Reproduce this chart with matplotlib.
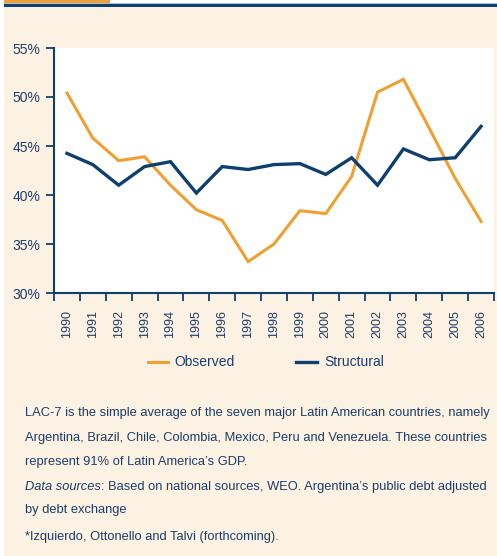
import matplotlib
matplotlib.use('Agg')
import matplotlib.pyplot as plt
from matplotlib.patches import Rectangle
from matplotlib.lines import Line2D

years = [str(y) for y in range(1990, 2007)]
observed = [50.4, 45.8, 43.5, 43.9, 41.0, 38.5, 37.4, 33.2, 35.0, 38.4,
            38.1, 41.9, 50.5, 51.8, 46.8, 41.7, 37.3]
structural = [44.25, 43.1, 41.0, 42.9, 43.4, 40.2, 42.9, 42.6, 43.1, 43.2,
              42.1, 43.8, 41.0, 44.7, 43.6, 43.8, 47.0]
yticks = [30, 35, 40, 45, 50, 55]

plt.rcParams['font.family'] = ['Liberation Sans', 'DejaVu Sans']

cream = '#fcf2e4'
navy = '#0f3f6e'
orange = '#f0a032'
txt = '#1d3d68'

W, H = 497, 556
fig = plt.figure(figsize=(W / 100, H / 100), dpi=100)
fig.patch.set_facecolor('white')
r = fig.canvas.get_renderer()

def px(x, y, w, h):
    return [x / W, 1 - (y + h) / H, w / W, h / H]

def fit(t, width):
    # shrink/grow a text so that it spans the given pixel width
    w = t.get_window_extent(r).width
    t.set_fontsize(t.get_fontsize() * width / w)
    return t

# background panel and top rules
fig.add_artist(Rectangle((4 / W, 0), 1, 1 - 6 / H, transform=fig.transFigure,
                         facecolor=cream, edgecolor='none', zorder=0))
fig.add_artist(Rectangle((4 / W, 1 - 3 / H), 106 / W, 3 / H, transform=fig.transFigure,
                         facecolor=orange, edgecolor='none'))
fig.add_artist(Rectangle((4 / W, 1 - 4 / H), 1, 1 / H, transform=fig.transFigure,
                         facecolor='#a9c2dc', edgecolor='none'))
fig.add_artist(Rectangle((4 / W, 1 - 6.5 / H), 1, 2.5 / H, transform=fig.transFigure,
                         facecolor=navy, edgecolor='none'))

ax = fig.add_axes(px(54, 48, 440, 245))
ax.set_facecolor('white')
x = list(range(len(years)))
ax.plot(x, observed, color=orange, lw=2.2, solid_joinstyle='miter')
ax.plot(x, structural, color=navy, lw=2.4, solid_joinstyle='miter')
ax.set_xlim(-0.5, len(years) - 0.5)
ax.set_ylim(30, 55)
ax.set_yticks(yticks)
ax.set_yticklabels([f'{v}%' for v in yticks], fontsize=10, color=txt)
ax.set_xticks([i - 0.5 for i in range(len(years) + 1)])
ax.set_xticklabels([])
ax.set_xticks(x, minor=True)
ax.set_xticklabels(years, minor=True, rotation=90, fontsize=9, color=txt)
ax.tick_params(axis='x', which='minor', length=0, pad=12)
ax.tick_params(axis='x', which='major', length=6, width=1.3, color=navy, direction='out')
ax.tick_params(axis='y', length=6, width=1.3, color=navy, direction='out', pad=4)
for s in ['top', 'right']:
    ax.spines[s].set_visible(False)
for s in ['left', 'bottom']:
    ax.spines[s].set_color(navy)
    ax.spines[s].set_linewidth(1.5)

# legend
ly = 1 - 362 / H
fig.add_artist(Line2D([148 / W, 168 / W], [ly, ly], color=orange, lw=2.2))
fig.add_artist(Line2D([296 / W, 317 / W], [ly, ly], color=navy, lw=2.4))
st = fit(fig.text(324 / W, ly, 'Structural', fontsize=10, color=txt, va='center'), 60)
fig.text(174 / W, ly, 'Observed', fontsize=st.get_fontsize(), color=txt, va='center')

# notes
first = fig.text(25 / W, 1 - 413 / H,
                 "LAC-7 is the simple average of the seven major Latin American countries, namely",
                 fontsize=9, color=txt, va='center')
fit(first, 465)
fs = first.get_fontsize()
lines = [
    ("Argentina, Brazil, Chile, Colombia, Mexico, Peru and Venezuela. These countries", 438),
    ("represent 91% of Latin America\u2019s GDP.", 462),
    ("by debt exchange", 510),
    ("*Izquierdo, Ottonello and Talvi (forthcoming).", 537),
]
for s, yy in lines:
    fig.text(25 / W, 1 - yy / H, s, fontsize=fs, color=txt, va='center')
t1 = fig.text(25 / W, 1 - 487 / H, "Data sources", fontsize=fs, color=txt, va='center',
              style='italic')
bb = t1.get_window_extent(r)
fig.text(bb.x1 / W, 1 - 487 / H,
         ": Based on national sources, WEO. Argentina\u2019s public debt adjusted",
         fontsize=fs, color=txt, va='center')

fig.savefig('out.png', dpi=100, facecolor=fig.get_facecolor())
